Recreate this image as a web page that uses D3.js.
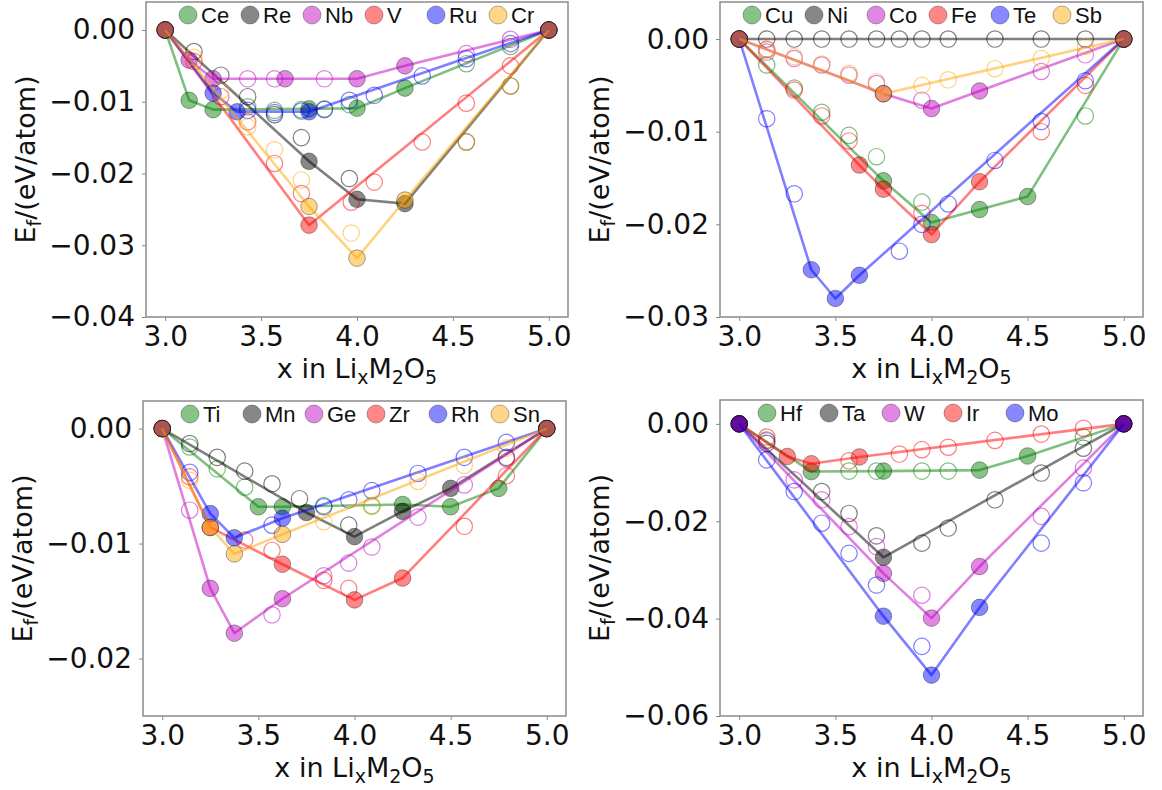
<!DOCTYPE html>
<html><head><meta charset="utf-8">
<script src="https://cdn.jsdelivr.net/npm/d3@7"></script>
<style>body{margin:0;background:#fff}</style>
</head><body>
<svg id="c" width="1162" height="790"></svg>
<script>
// ---------- data ----------
const xTicks = [3.0, 3.5, 4.0, 4.5, 5.0];

// Panel 1
const p1Names = ["Ce", "Re", "Nb", "V", "Ru", "Cr"];
const p1YTicks = [0, -0.01, -0.02, -0.03, -0.04];
const ceHull = [[3,0],[3.125,-0.0098],[3.25,-0.0111],[3.75,-0.0110],[4.0,-0.0109],[4.25,-0.0081],[5,0]];
const ceOpen = [[3.43,-0.0107],[3.57,-0.0112],[3.71,-0.0111],[3.83,-0.0110],[3.96,-0.0104],[4.57,-0.0047],[4.8,-0.0023]];
const reHull = [[3,0],[3.75,-0.0183],[4.0,-0.0236],[4.25,-0.0242],[5,0]];
const reOpen = [[3.15,-0.0030],[3.29,-0.0063],[3.43,-0.0093],[3.57,-0.0118],[3.71,-0.0150],[3.96,-0.0207],[4.57,-0.0156],[4.8,-0.0078]];
const nbHull = [[3,0],[3.125,-0.0042],[3.25,-0.0068],[3.625,-0.0068],[4.0,-0.0068],[4.25,-0.0050],[5,0]];
const nbOpen = [[3.43,-0.0068],[3.57,-0.0068],[3.83,-0.0068],[4.57,-0.0033],[4.8,-0.0013]];
const vHull = [[3,0],[3.75,-0.0272],[5,0]];
const vOpen = [[3.15,-0.0044],[3.29,-0.0093],[3.43,-0.0128],[3.57,-0.0186],[3.71,-0.0228],[3.97,-0.0240],[4.09,-0.0212],[4.34,-0.0156],[4.57,-0.0102],[4.8,-0.0050]];
const ruHull = [[3,0],[3.25,-0.0088],[3.375,-0.0114],[3.75,-0.0114],[5,0]];
const ruOpen = [[3.43,-0.0112],[3.57,-0.0115],[3.71,-0.0113],[3.83,-0.0111],[3.96,-0.0098],[4.09,-0.0091],[4.34,-0.0064],[4.57,-0.0040],[4.8,-0.0019]];
const crHull = [[3,0],[3.75,-0.0246],[4.0,-0.0318],[4.25,-0.0237],[5,0]];
const crOpen = [[3.15,-0.0038],[3.29,-0.0085],[3.43,-0.0135],[3.57,-0.0167],[3.71,-0.0209],[3.97,-0.0283],[4.57,-0.0156],[4.8,-0.0078]];

// Panel 2
const p2Names = ["Cu", "Ni", "Co", "Fe", "Te", "Sb"];
const p2YTicks = [0, -0.01, -0.02, -0.03];
const cuHull = [[3,0],[3.75,-0.0153],[4.0,-0.0198],[4.25,-0.0184],[4.5,-0.0170],[5,0]];
const cuOpen = [[3.143,-0.0028],[3.286,-0.0053],[3.429,-0.0079],[3.571,-0.0104],[3.714,-0.0127],[3.95,-0.0176],[4.8,-0.0083]];
const niHull = [[3,0],[5,0]];
const niOpen = [[3.143,0],[3.286,0],[3.429,0],[3.571,0],[3.714,0],[3.833,0],[3.95,0],[4.087,0],[4.33,0],[4.571,0],[4.8,0]];
const coHull = [[3,0],[3.75,-0.0059],[4.0,-0.0075],[4.25,-0.0056],[5,0]];
const coOpen = [[3.143,-0.0014],[3.286,-0.0021],[3.429,-0.0028],[3.571,-0.0039],[3.714,-0.0048],[3.95,-0.0066],[4.571,-0.0035],[4.8,-0.0017]];
const feHull = [[3,0],[3.625,-0.0136],[3.75,-0.0162],[4.0,-0.0211],[4.25,-0.0154],[5,0]];
const feOpen = [[3.143,-0.0011],[3.286,-0.0055],[3.429,-0.0083],[3.571,-0.0110],[3.95,-0.0188],[4.571,-0.0100],[4.8,-0.0050]];
const teHull = [[3,0],[3.375,-0.0249],[3.5,-0.0280],[3.625,-0.0255],[5,0]];
const teOpen = [[3.143,-0.0086],[3.286,-0.0167],[3.833,-0.0229],[3.95,-0.0200],[4.087,-0.0178],[4.33,-0.0131],[4.571,-0.0089],[4.8,-0.0045]];
const sbHull = [[3,0],[3.75,-0.0059],[5,0]];
const sbOpen = [[3.143,-0.0012],[3.286,-0.0019],[3.429,-0.0027],[3.571,-0.0037],[3.714,-0.0046],[3.95,-0.0050],[4.087,-0.0044],[4.33,-0.0032],[4.571,-0.0021],[4.8,-0.0008]];

// Panel 3
const p3Names = ["Ti", "Mn", "Ge", "Zr", "Rh", "Sn"];
const p3YTicks = [0, -0.01, -0.02];
const tiHull = [[3,0],[3.5,-0.0068],[3.625,-0.0068],[4.25,-0.0066],[4.5,-0.0068],[4.75,-0.0052],[5,0]];
const tiOpen = [[3.143,-0.0016],[3.286,-0.0035],[3.429,-0.0051],[3.84,-0.0067],[4.09,-0.0067]];
const mnHull = [[3,0],[3.75,-0.0073],[4.0,-0.0094],[4.25,-0.0072],[4.5,-0.0052],[5,0]];
const mnOpen = [[3.143,-0.0013],[3.286,-0.0025],[3.429,-0.0037],[3.571,-0.0048],[3.714,-0.0061],[3.97,-0.0084],[4.79,-0.0025]];
const geHull = [[3,0],[3.25,-0.0139],[3.375,-0.0178],[3.625,-0.0148],[5,0]];
const geOpen = [[3.143,-0.0071],[3.571,-0.0162],[3.84,-0.0128],[3.97,-0.0117],[4.09,-0.0103],[4.33,-0.0077],[4.571,-0.0049],[4.79,-0.0026]];
const zrHull = [[3,0],[3.25,-0.0086],[3.625,-0.0118],[4.0,-0.0149],[4.25,-0.0130],[5,0]];
const zrOpen = [[3.143,-0.0042],[3.429,-0.0097],[3.571,-0.0106],[3.84,-0.0132],[3.97,-0.0139],[4.571,-0.0085],[4.79,-0.0041]];
const rhHull = [[3,0],[3.25,-0.0074],[3.375,-0.0095],[3.625,-0.0078],[5,0]];
const rhOpen = [[3.143,-0.0038],[3.571,-0.0084],[3.84,-0.0068],[3.97,-0.0062],[4.09,-0.0054],[4.33,-0.0039],[4.571,-0.0025],[4.79,-0.0012]];
const snHull = [[3,0],[3.25,-0.0086],[3.375,-0.0109],[3.625,-0.0092],[5,0]];
const snOpen = [[3.143,-0.0045],[3.84,-0.0081],[4.09,-0.0068],[4.33,-0.0046],[4.571,-0.0032],[4.79,-0.0017]];

// Panel 4
const p4Names = ["Hf", "Ta", "W", "Ir", "Mo"];
const p4YTicks = [0, -0.02, -0.04, -0.06];
const hfHull = [[3,0],[3.375,-0.0098],[3.75,-0.0097],[4.25,-0.0095],[4.5,-0.0066],[5,0]];
const hfOpen = [[3.143,-0.0033],[3.571,-0.0097],[3.714,-0.0097],[3.95,-0.0097],[4.087,-0.0097],[4.79,-0.0027]];
const taHull = [[3,0],[3.75,-0.0274],[5,0]];
const taOpen = [[3.143,-0.0040],[3.429,-0.0139],[3.571,-0.0184],[3.714,-0.0230],[3.95,-0.0245],[4.087,-0.0214],[4.33,-0.0156],[4.571,-0.0101],[4.79,-0.0050]];
const wHull = [[3,0],[3.75,-0.0307],[4.0,-0.0399],[4.25,-0.0293],[5,0]];
const wOpen = [[3.143,-0.0035],[3.286,-0.0115],[3.429,-0.0156],[3.571,-0.0211],[3.714,-0.0252],[3.95,-0.0352],[4.571,-0.0190],[4.79,-0.0091]];
const irHull = [[3,0],[3.25,-0.0067],[3.375,-0.0082],[3.625,-0.0068],[5,0]];
const irOpen = [[3.143,-0.0027],[3.571,-0.0076],[3.833,-0.0062],[3.95,-0.0053],[4.087,-0.0048],[4.33,-0.0034],[4.571,-0.0021],[4.79,-0.0009]];
const moHull = [[3,0],[3.75,-0.0395],[4.0,-0.0516],[4.25,-0.0377],[5,0]];
const moOpen = [[3.143,-0.0074],[3.286,-0.0139],[3.429,-0.0204],[3.571,-0.0266],[3.714,-0.0331],[3.95,-0.0457],[4.571,-0.0245],[4.79,-0.0121]];

// ---------- styles / layout ----------
const palette = ["#008000", "#000000", "#bf00bf", "#ff0000", "#0000ff", "#ffa500"];
const ALPHA = 0.47;

const panels = [
  {names: p1Names, hull: [ceHull, reHull, nbHull, vHull, ruHull, crHull], open: [ceOpen, reOpen, nbOpen, vOpen, ruOpen, crOpen],
   box: {l: 146, r: 568, t: 2, b: 317}, yDom: [-0.04, 0.0039], yTicks: p1YTicks, legX: 188},
  {names: p2Names, hull: [cuHull, niHull, coHull, feHull, teHull, sbHull], open: [cuOpen, niOpen, coOpen, feOpen, teOpen, sbOpen],
   box: {l: 720, r: 1143, t: 2, b: 317}, yDom: [-0.03, 0.004], yTicks: p2YTicks, legX: 752},
  {names: p3Names, hull: [tiHull, mnHull, geHull, zrHull, rhHull, snHull], open: [tiOpen, mnOpen, geOpen, zrOpen, rhOpen, snOpen],
   box: {l: 143, r: 566, t: 401, b: 716}, yDom: [-0.025, 0.0024], yTicks: p3YTicks, legX: 190},
  {names: p4Names, hull: [hfHull, taHull, wHull, irHull, moHull], open: [hfOpen, taOpen, wOpen, irOpen, moOpen],
   box: {l: 720, r: 1143, t: 400, b: 716}, yDom: [-0.06, 0.0049], yTicks: p4YTicks, legX: 767}
];

const svg = d3.select("#c");
const TICKFONT = "'DejaVu Sans', sans-serif";

panels.forEach(p => {
  const {l, r, t, b} = p.box;
  const x = d3.scaleLinear().domain([2.9, 5.1]).range([l, r]);
  const y = d3.scaleLinear().domain(p.yDom).range([b, t]);
  const g = svg.append("g");

  // axes
  const xa = g.append("g").attr("transform", `translate(0,${b})`)
    .call(d3.axisBottom(x).tickValues(xTicks).tickFormat(d3.format(".1f")).tickSize(4).tickPadding(5));
  const ya = g.append("g").attr("transform", `translate(${l},0)`)
    .call(d3.axisLeft(y).tickValues(p.yTicks).tickFormat(d3.format(".2f")).tickSize(4).tickPadding(7));
  [xa, ya].forEach(a => {
    a.select(".domain").remove();
    a.selectAll(".tick line").attr("stroke", "#888").attr("stroke-width", 1);
    a.selectAll(".tick text").attr("font-family", TICKFONT).attr("font-size", 28).attr("fill", "#111");
  });

  // frame
  g.append("rect").attr("x", l).attr("y", t).attr("width", r - l).attr("height", b - t)
    .attr("fill", "none").attr("stroke", "#8a8a8a").attr("stroke-width", 1.5);

  const line = d3.line().x(d => x(d[0])).y(d => y(d[1]));

  p.names.forEach((nm, i) => {
    const c = palette[i];
    const sg = g.append("g");
    sg.append("path").datum(p.hull[i]).attr("d", line)
      .attr("fill", "none").attr("stroke", c).attr("stroke-opacity", 0.5).attr("stroke-width", 2.6)
      .attr("stroke-linejoin", "round");
    sg.selectAll("circle.open").data(p.open[i]).join("circle").attr("class", "open")
      .attr("cx", d => x(d[0])).attr("cy", d => y(d[1])).attr("r", 8.2)
      .attr("fill", "none").attr("stroke", c).attr("stroke-opacity", 0.5).attr("stroke-width", 1.2);
    sg.selectAll("circle.fill").data(p.hull[i]).join("circle").attr("class", "fill")
      .attr("cx", d => x(d[0])).attr("cy", d => y(d[1])).attr("r", 8.3)
      .attr("fill", c).attr("fill-opacity", ALPHA)
      .attr("stroke", "#000").attr("stroke-opacity", 0.35).attr("stroke-width", 1);
  });

  // legend
  const ly = t + 13;
  p.names.forEach((nm, i) => {
    const cx = p.legX + i * 62;
    g.append("circle").attr("cx", cx).attr("cy", ly).attr("r", 9)
      .attr("fill", palette[i]).attr("fill-opacity", ALPHA)
      .attr("stroke", "#000").attr("stroke-opacity", 0.3).attr("stroke-width", 1);
    g.append("text").attr("x", cx + 13).attr("y", ly).attr("dy", "0.36em")
      .attr("font-family", "'Liberation Sans', Arial, sans-serif").attr("font-size", 22).attr("fill", "#111")
      .text(nm);
  });

  // y label
  const yl = g.append("text")
    .attr("transform", `translate(${l - 111},${(t + b) / 2}) rotate(-90)`)
    .attr("text-anchor", "middle").attr("font-family", TICKFONT).attr("font-size", 27).attr("fill", "#111");
  yl.append("tspan").text("E");
  yl.append("tspan").attr("font-size", 19).attr("dy", 6).text("f");
  yl.append("tspan").attr("dy", -6).text("/(eV/atom)");

  // x label
  const xl = g.append("text").attr("x", (l + r) / 2).attr("y", b + 61)
    .attr("text-anchor", "middle").attr("font-family", TICKFONT).attr("font-size", 27).attr("fill", "#111");
  xl.append("tspan").text("x in Li");
  xl.append("tspan").attr("font-size", 19).attr("dy", 6).text("x");
  xl.append("tspan").attr("dy", -6).text("M");
  xl.append("tspan").attr("font-size", 19).attr("dy", 6).text("2");
  xl.append("tspan").attr("dy", -6).text("O");
  xl.append("tspan").attr("font-size", 19).attr("dy", 6).text("5");
});
</script>
</body></html>
